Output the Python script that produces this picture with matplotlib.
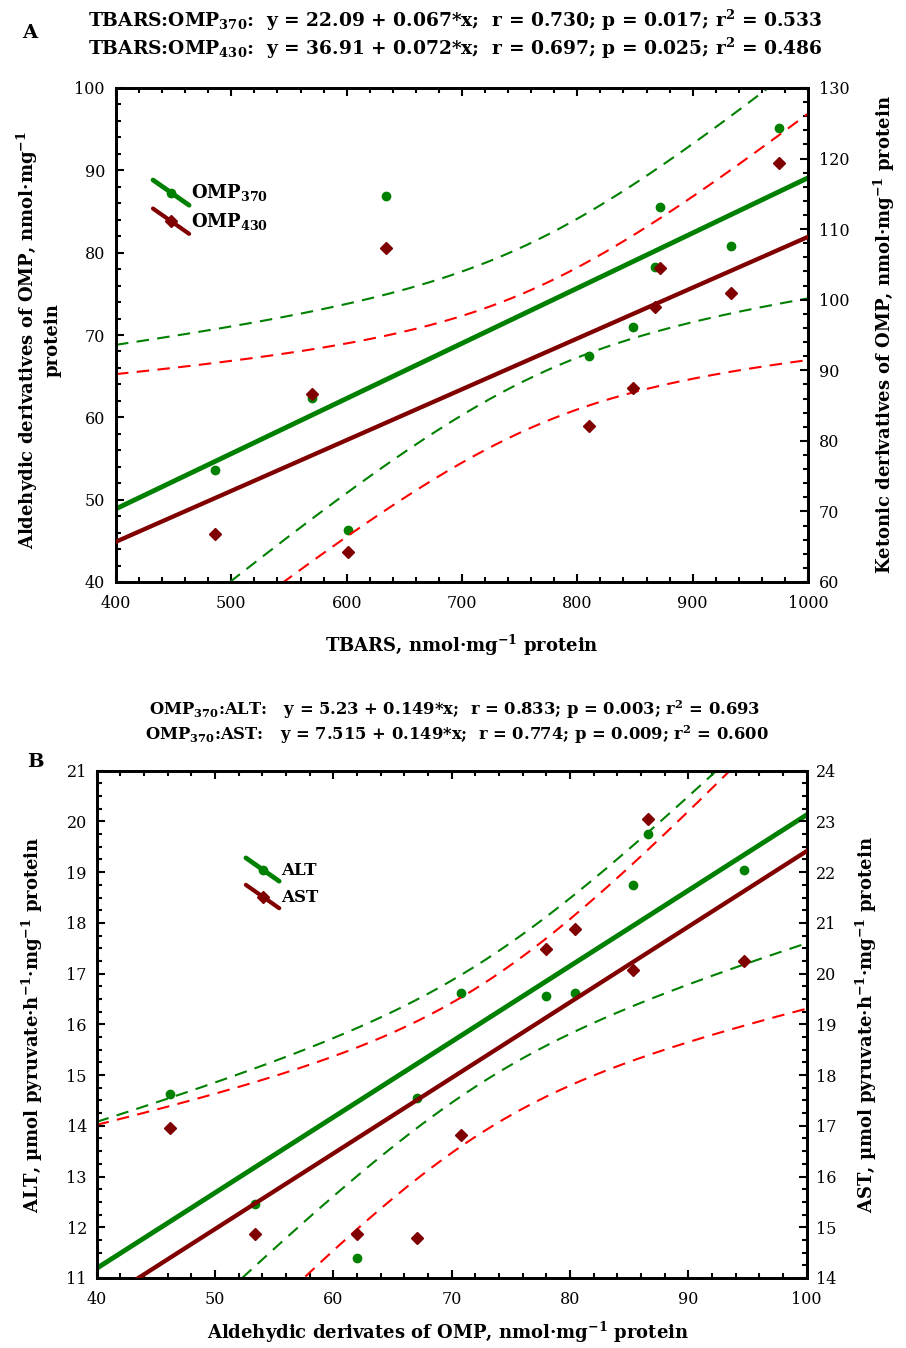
import numpy as np
import matplotlib
matplotlib.use("Agg")
import matplotlib.pyplot as plt
from matplotlib.ticker import MultipleLocator
from matplotlib.lines import Line2D
from matplotlib.legend_handler import HandlerBase

plt.rcParams['font.family'] = ['DejaVu Serif']
plt.rcParams['mathtext.default'] = 'regular'

# ---------------- data: panel A ----------------
tbars = [486, 570, 601, 634, 810, 848, 867, 872, 933, 975]
omp370_a = [53.6, 62.4, 46.3, 86.9, 67.4, 71.0, 78.3, 85.6, 80.8, 95.1]
omp430_a = [66.8, 86.7, 64.3, 107.3, 82.1, 87.5, 98.9, 104.5, 101.0, 119.4]
fit370_a = (22.09, 0.067)
fit430_a = (36.91, 0.072)
title_a = ["TBARS:OMP$_{370}$:  y = 22.09 + 0.067*x;  r = 0.730; p = 0.017; r$^{2}$ = 0.533",
           "TBARS:OMP$_{430}$:  y = 36.91 + 0.072*x;  r = 0.697; p = 0.025; r$^{2}$ = 0.486"]
legend_a = ["OMP$_{370}$", "OMP$_{430}$"]

# ---------------- data: panel B ----------------
omp370_b = [46.2, 53.4, 62.0, 67.1, 70.8, 78.0, 80.4, 85.3, 86.6, 94.7]
alt_b = [14.63, 12.45, 11.40, 14.55, 16.62, 16.56, 16.62, 18.75, 19.75, 19.05]
ast_b = [16.95, 14.87, 14.87, 14.78, 16.82, 20.48, 20.87, 20.08, 23.05, 20.24]
fit_alt = (5.23, 0.149)
fit_ast = (7.515, 0.149)
title_b = ["OMP$_{370}$:ALT:   y = 5.23 + 0.149*x;  r = 0.833; p = 0.003; r$^{2}$ = 0.693",
           "OMP$_{370}$:AST:   y = 7.515 + 0.149*x;  r = 0.774; p = 0.009; r$^{2}$ = 0.600"]
legend_b = ["ALT", "AST"]

T_CRIT = 2.306  # t(0.975, df=8)

GREEN = '#008000'
DRED = '#800000'
RED = '#ff0000'


def band(x, y, fit, xs):
    x = np.asarray(x, float)
    y = np.asarray(y, float)
    a, b = fit
    res = y - (a + b * x)
    n = len(x)
    s = np.sqrt(np.sum(res ** 2) / (n - 2))
    sxx = np.sum((x - x.mean()) ** 2)
    pred = a + b * xs
    half = T_CRIT * s * np.sqrt(1.0 / n + (xs - x.mean()) ** 2 / sxx)
    return pred, pred - half, pred + half


class DiagHandler(HandlerBase):
    def create_artists(self, legend, orig_handle, xdescent, ydescent,
                       width, height, fontsize, trans):
        x0, x1 = -xdescent, -xdescent + width
        y0, y1 = -ydescent + height * 1.45, -ydescent - height * 0.55
        ln = Line2D([x0, x1], [y0, y1], color=orig_handle.get_color(),
                    lw=orig_handle.get_linewidth(), solid_capstyle='round')
        mk = Line2D([(x0 + x1) / 2], [(y0 + y1) / 2], linestyle='none',
                    marker=orig_handle.get_marker(),
                    markersize=orig_handle.get_markersize(),
                    color=orig_handle.get_color())
        ln.set_transform(trans)
        mk.set_transform(trans)
        return [ln, mk]


def style_axis(ax):
    for sp in ax.spines.values():
        sp.set_linewidth(2.0)
    ax.tick_params(which='both', direction='in', labelsize=11.5, width=1.5)
    ax.tick_params(which='major', length=6)
    ax.tick_params(which='minor', length=3.5)


dash = (0, (6, 4))

fig = plt.figure(figsize=(9.06, 13.48), dpi=100)

# ================= Panel A =================
axA = fig.add_axes([116 / 906, 1 - 582 / 1348, 692 / 906, 494 / 1348])
axA2 = axA.twinx()
xs = np.linspace(400, 1000, 300)

p, lo, hi = band(tbars, omp370_a, fit370_a, xs)
axA.plot(xs, p, color=GREEN, lw=3.5, zorder=3)
axA.plot(xs, lo, color=GREEN, lw=1.5, ls=dash)
axA.plot(xs, hi, color=GREEN, lw=1.5, ls=dash)
axA.plot(tbars, omp370_a, 'o', color=GREEN, ms=6, zorder=4)

p, lo, hi = band(tbars, omp430_a, fit430_a, xs)
axA2.plot(xs, p, color=DRED, lw=3.1, zorder=3)
axA2.plot(xs, lo, color=RED, lw=1.5, ls=dash)
axA2.plot(xs, hi, color=RED, lw=1.5, ls=dash)
axA2.plot(tbars, omp430_a, 'D', color=DRED, ms=6, zorder=4)

axA.set_xlim(400, 1000)
axA.set_ylim(40, 100)
axA2.set_ylim(60, 130)
axA.xaxis.set_major_locator(MultipleLocator(100))
axA.xaxis.set_minor_locator(MultipleLocator(20))
axA.yaxis.set_major_locator(MultipleLocator(10))
axA.yaxis.set_minor_locator(MultipleLocator(2))
axA2.yaxis.set_major_locator(MultipleLocator(10))
axA2.yaxis.set_minor_locator(MultipleLocator(2))
style_axis(axA)
style_axis(axA2)
axA.tick_params(which='both', top=True, right=False)
axA.tick_params(axis='x', pad=9)
axA.tick_params(axis='y', pad=8)
axA2.tick_params(axis='y', pad=8)

axA.set_xlabel("TBARS, nmol·mg$^{-1}$ protein", fontsize=13, fontweight='bold')
axA.xaxis.set_label_coords(0.5, -0.128)
axA.xaxis.label.set_va('center')
axA.set_ylabel("Aldehydic derivatives of OMP, nmol·mg$^{-1}$\nprotein",
               fontsize=13, fontweight='bold', linespacing=1.25)
axA.yaxis.set_label_coords(-0.113, 0.49)
axA.yaxis.label.set_va('center')
axA2.set_ylabel("Ketonic derivatives of OMP, nmol·mg$^{-1}$ protein",
                fontsize=13, fontweight='bold', rotation=90)
axA2.yaxis.set_label_coords(1.111, 0.5)
axA2.yaxis.label.set_va('center')

hA = [Line2D([], [], color=GREEN, lw=3.4, marker='o', ms=6),
      Line2D([], [], color=DRED, lw=3.0, marker='D', ms=6)]
axA2.legend(hA, legend_a, loc='upper left', bbox_to_anchor=(0.03, 0.842),
            frameon=False, handler_map={Line2D: DiagHandler()},
            handlelength=2.0, handletextpad=0.1, labelspacing=0.42,
            prop={'family': 'DejaVu Serif', 'weight': 'bold', 'size': 13})

fig.text(455 / 906, 1 - 20 / 1348, title_a[0], ha='center', va='center',
         fontsize=13.4, fontweight='bold')
fig.text(455 / 906, 1 - 48 / 1348, title_a[1], ha='center', va='center',
         fontsize=13.4, fontweight='bold')
fig.text(30 / 906, 1 - 33 / 1348, "A", ha='center', va='center',
         fontsize=14, fontweight='bold')

# ================= Panel B =================
axB = fig.add_axes([96.7 / 906, 1 - 1278 / 1348, 710 / 906, 507.3 / 1348])
axB2 = axB.twinx()
xs = np.linspace(40, 100, 300)

p, lo, hi = band(omp370_b, alt_b, fit_alt, xs)
axB.plot(xs, p, color=GREEN, lw=3.5, zorder=3)
axB.plot(xs, lo, color=GREEN, lw=1.5, ls=dash)
axB.plot(xs, hi, color=GREEN, lw=1.5, ls=dash)
axB.plot(omp370_b, alt_b, 'o', color=GREEN, ms=6, zorder=4)

p, lo, hi = band(omp370_b, ast_b, fit_ast, xs)
axB2.plot(xs, p, color=DRED, lw=3.1, zorder=3)
axB2.plot(xs, lo, color=RED, lw=1.5, ls=dash)
axB2.plot(xs, hi, color=RED, lw=1.5, ls=dash)
axB2.plot(omp370_b, ast_b, 'D', color=DRED, ms=6, zorder=4)

axB.set_xlim(40, 100)
axB.set_ylim(11, 21)
axB2.set_ylim(14, 24)
axB.xaxis.set_major_locator(MultipleLocator(10))
axB.xaxis.set_minor_locator(MultipleLocator(2))
axB.yaxis.set_major_locator(MultipleLocator(1))
axB.yaxis.set_minor_locator(MultipleLocator(0.25))
axB2.yaxis.set_major_locator(MultipleLocator(1))
axB2.yaxis.set_minor_locator(MultipleLocator(0.25))
style_axis(axB)
style_axis(axB2)
axB.tick_params(which='both', top=True, right=False)
axB.tick_params(axis='x', pad=9)
axB.tick_params(axis='y', pad=7)
axB2.tick_params(axis='y', pad=7)

axB.set_xlabel("Aldehydic derivates of OMP, nmol·mg$^{-1}$ protein",
               fontsize=13, fontweight='bold')
axB.xaxis.set_label_coords(0.495, -0.108)
axB.xaxis.label.set_va('center')
axB.set_ylabel("ALT, µmol pyruvate·h$^{-1}$·mg$^{-1}$ protein",
               fontsize=13, fontweight='bold')
axB.yaxis.set_label_coords(-0.09, 0.5)
axB.yaxis.label.set_va('center')
axB2.set_ylabel("AST, µmol pyruvate·h$^{-1}$·mg$^{-1}$ protein",
                fontsize=13, fontweight='bold', rotation=90)
axB2.yaxis.set_label_coords(1.0835, 0.5)
axB2.yaxis.label.set_va('center')

hB = [Line2D([], [], color=GREEN, lw=3.4, marker='o', ms=6),
      Line2D([], [], color=DRED, lw=3.0, marker='D', ms=6)]
axB2.legend(hB, legend_b, loc='upper left', bbox_to_anchor=(0.189, 0.85),
            frameon=False, handler_map={Line2D: DiagHandler()},
            handlelength=2.0, handletextpad=0.1, labelspacing=0.6,
            prop={'family': 'DejaVu Serif', 'weight': 'bold', 'size': 12})

fig.text(455 / 906, 1 - 710 / 1348, title_b[0], ha='center', va='center',
         fontsize=11.8, fontweight='bold')
fig.text(457 / 906, 1 - 735 / 1348, title_b[1], ha='center', va='center',
         fontsize=11.8, fontweight='bold')
fig.text(35 / 906, 1 - 762 / 1348, "B", ha='center', va='center',
         fontsize=14, fontweight='bold')

fig.savefig("out.png", dpi=100)
